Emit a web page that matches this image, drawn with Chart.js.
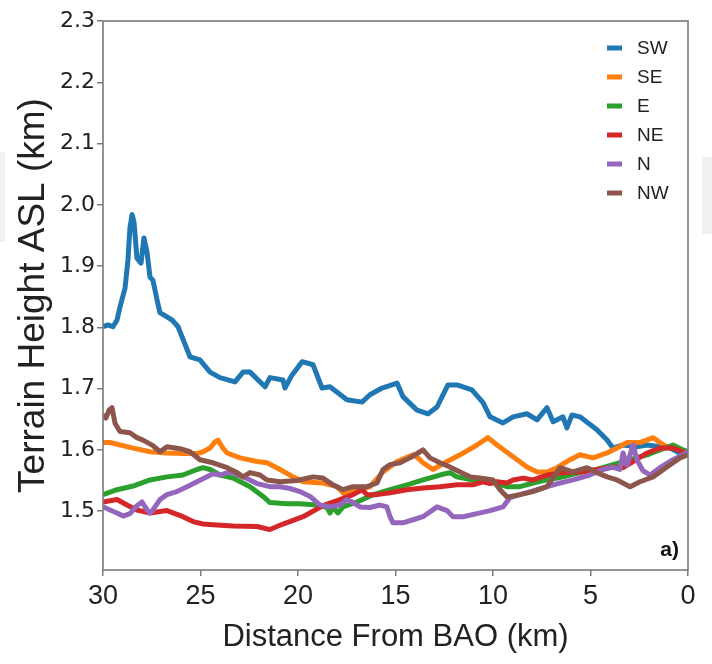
<!DOCTYPE html>
<html>
<head>
<meta charset="utf-8">
<script src="https://cdn.jsdelivr.net/npm/chart.js@4.4.0/dist/chart.umd.min.js"></script>
<style>
  body { margin: 0; background: #fff; }
  #wrap { position: relative; width: 712px; height: 664px; }
  #wrap canvas { position: absolute; left: 0; top: 0; }
  .smudge { position: absolute; background: #f1f1f1; }
</style>
</head>
<body>
<div id="wrap">
  <div class="smudge" style="left:702px;top:157px;width:10px;height:77px"></div>
  <div class="smudge" style="left:0;top:152px;width:5px;height:90px"></div>
  <canvas id="terrain" width="712" height="664"></canvas>
</div>
<script>
// distance from BAO (km) and terrain height ASL (km)
const swKm  = [30.00,29.74,29.49,29.28,29.13,28.87,28.72,28.62,28.51,28.41,28.26,28.05,27.90,27.74,27.59,27.44,27.23,27.08,26.72,26.46,26.15,25.95,25.54,25.03,24.51,24.00,23.23,22.82,22.46,21.69,21.44,20.77,20.67,20.31,19.79,19.23,18.77,18.36,17.49,16.72,16.31,15.69,14.92,14.62,13.90,13.33,12.87,12.31,11.85,11.08,10.51,10.15,9.49,8.97,8.26,7.74,7.23,6.92,6.41,6.21,5.95,5.54,4.67,4.15,3.85,3.33,2.62,2.10,1.44,0.92,0.26,0];
const swVal = [1.801,1.804,1.801,1.812,1.833,1.864,1.910,1.962,1.984,1.972,1.913,1.905,1.946,1.922,1.882,1.877,1.845,1.824,1.817,1.812,1.801,1.785,1.752,1.747,1.727,1.718,1.711,1.727,1.727,1.703,1.718,1.714,1.701,1.722,1.744,1.739,1.701,1.703,1.682,1.678,1.690,1.701,1.709,1.687,1.665,1.659,1.670,1.706,1.706,1.698,1.677,1.654,1.644,1.654,1.659,1.649,1.669,1.646,1.654,1.636,1.657,1.654,1.633,1.616,1.603,1.608,1.605,1.608,1.605,1.603,1.592,1.597];

const seKm  = [30.00,29.64,28.46,27.59,26.72,25.90,25.18,24.87,24.51,24.26,24.10,23.90,23.64,22.97,22.10,21.59,20.92,20.26,19.74,18.72,18.00,17.59,17.23,16.82,16.31,15.64,14.92,14.10,13.85,13.59,13.08,12.36,11.69,10.82,10.26,9.79,8.97,8.26,7.74,7.23,6.72,6.05,5.54,4.87,4.15,3.64,3.13,2.46,1.79,1.44,1.08,0.41,0];
const seVal = [1.612,1.612,1.603,1.597,1.595,1.594,1.594,1.597,1.603,1.613,1.616,1.605,1.595,1.587,1.581,1.579,1.568,1.556,1.548,1.546,1.540,1.527,1.532,1.535,1.540,1.564,1.581,1.592,1.587,1.579,1.568,1.581,1.592,1.608,1.620,1.608,1.589,1.572,1.564,1.564,1.571,1.584,1.592,1.587,1.595,1.603,1.612,1.612,1.620,1.612,1.605,1.600,1.597];

const eKm   = [30.00,29.28,28.46,27.59,26.72,25.90,25.18,24.87,24.51,24.00,23.33,22.46,21.79,21.44,20.56,19.90,19.03,18.51,18.36,18.21,17.95,17.69,16.97,16.15,15.28,14.41,13.59,12.72,12.21,11.85,11.03,10.15,9.28,8.62,7.95,7.23,6.41,5.54,4.67,3.85,2.97,2.10,1.44,0.77,0.26,0];
const eVal  = [1.527,1.535,1.541,1.551,1.556,1.559,1.568,1.571,1.568,1.559,1.554,1.540,1.524,1.514,1.512,1.512,1.510,1.506,1.497,1.506,1.497,1.507,1.515,1.527,1.535,1.543,1.551,1.559,1.563,1.556,1.551,1.548,1.540,1.540,1.546,1.551,1.556,1.563,1.568,1.576,1.584,1.592,1.600,1.608,1.600,1.597];

const neKm  = [30.00,29.28,28.77,28.26,27.59,26.72,25.90,25.38,24.87,24.36,23.33,22.10,21.44,20.77,19.74,18.72,17.85,17.18,16.72,16.46,15.95,15.28,14.41,13.59,12.72,11.85,11.03,10.51,10.15,9.79,9.28,8.97,8.46,7.95,7.23,6.41,5.54,4.67,3.85,3.33,2.82,2.10,1.44,0.77,0.26,0];
const neVal = [1.515,1.519,1.510,1.502,1.497,1.501,1.491,1.483,1.479,1.478,1.476,1.475,1.470,1.479,1.491,1.509,1.519,1.527,1.535,1.527,1.527,1.530,1.535,1.538,1.540,1.543,1.543,1.548,1.545,1.548,1.546,1.551,1.554,1.551,1.559,1.563,1.564,1.568,1.572,1.571,1.581,1.595,1.603,1.603,1.597,1.592];

const nKm   = [30.00,29.64,29.28,28.97,28.62,28.26,28.00,27.74,27.59,27.44,27.08,26.72,26.21,25.69,25.18,24.67,24.36,24.00,23.49,22.82,22.10,21.44,20.92,20.41,19.90,19.38,18.87,18.36,17.85,17.49,17.18,16.82,16.31,15.79,15.44,15.28,15.13,14.62,14.10,13.59,12.87,12.36,12.05,11.54,10.82,10.15,9.49,9.13,8.62,7.95,7.23,6.56,5.90,5.03,4.36,3.85,3.49,3.33,3.13,2.82,2.62,2.31,1.95,1.44,0.77,0.26,0];
const nVal  = [1.507,1.502,1.497,1.492,1.496,1.509,1.515,1.502,1.497,1.502,1.519,1.527,1.532,1.540,1.548,1.556,1.561,1.559,1.564,1.556,1.545,1.540,1.540,1.537,1.532,1.524,1.510,1.507,1.510,1.519,1.514,1.507,1.506,1.510,1.507,1.491,1.481,1.481,1.486,1.491,1.507,1.501,1.491,1.491,1.496,1.501,1.507,1.522,1.527,1.533,1.540,1.546,1.551,1.559,1.568,1.572,1.568,1.595,1.575,1.608,1.584,1.566,1.559,1.571,1.584,1.592,1.597];

const nwKm  = [30.00,29.85,29.69,29.54,29.38,29.13,28.62,28.26,27.95,27.44,27.08,26.72,26.05,25.54,25.03,24.36,23.64,23.13,22.82,22.46,21.95,21.59,20.92,20.05,19.23,18.72,18.21,17.69,17.18,16.46,15.95,15.64,15.28,14.77,14.26,13.74,13.59,13.23,12.72,12.21,11.69,11.18,10.67,10.00,9.64,9.28,8.62,7.95,7.23,6.56,5.90,5.18,4.67,4.15,3.64,2.97,2.46,1.79,1.08,0.41,0];
const nwVal = [1.657,1.652,1.665,1.669,1.643,1.630,1.628,1.620,1.616,1.607,1.597,1.605,1.602,1.597,1.584,1.579,1.571,1.563,1.556,1.563,1.559,1.551,1.548,1.550,1.556,1.554,1.543,1.535,1.540,1.540,1.546,1.568,1.576,1.579,1.587,1.597,1.600,1.587,1.579,1.572,1.564,1.556,1.554,1.551,1.535,1.523,1.527,1.532,1.540,1.571,1.564,1.571,1.563,1.556,1.551,1.540,1.548,1.556,1.572,1.587,1.592];

const seriesNames = ['SW', 'SE', 'E', 'NE', 'N', 'NW'];
const seriesKm = [swKm, seKm, eKm, neKm, nKm, nwKm];
const seriesVal = [swVal, seVal, eVal, neVal, nVal, nwVal];
const seriesColors = ['#1f77b4', '#ff7f0e', '#2ca02c', '#d62728', '#9467bd', '#8c564b'];

const xTickValues = [30, 25, 20, 15, 10, 5, 0];
const yTickValues = [1.5, 1.6, 1.7, 1.8, 1.9, 2.0, 2.1, 2.2, 2.3];

const SANS = '"Liberation Sans", Arial, sans-serif';

// box around the plot area, like matplotlib spines
const frameBox = {
  id: 'frameBox',
  afterDatasetsDraw(chart) {
    const a = chart.chartArea, ctx = chart.ctx;
    ctx.save();
    ctx.strokeStyle = '#7a7a7a';
    ctx.lineWidth = 1.6;
    ctx.strokeRect(a.left, a.top, a.right - a.left, a.bottom - a.top);
    ctx.restore();
  }
};

// legend drawn inside the axes, top right
const innerLegend = {
  id: 'innerLegend',
  afterDraw(chart) {
    const ctx = chart.ctx;
    ctx.save();
    ctx.font = '19px ' + SANS;
    ctx.textBaseline = 'middle';
    ctx.fillStyle = '#222';
    chart.data.datasets.forEach((ds, i) => {
      const y = 48 + i * 29;
      ctx.strokeStyle = ds.borderColor;
      ctx.lineWidth = 5;
      ctx.beginPath();
      ctx.moveTo(607, y);
      ctx.lineTo(622, y);
      ctx.stroke();
      ctx.fillText(ds.label, 637, y + 1);
    });
    ctx.restore();
  }
};

const panelLabel = {
  id: 'panelLabel',
  afterDraw(chart) {
    const ctx = chart.ctx;
    ctx.save();
    ctx.font = 'bold 21px ' + SANS;
    ctx.fillStyle = '#111';
    ctx.textAlign = 'right';
    ctx.textBaseline = 'middle';
    ctx.fillText('a)', chart.chartArea.right - 9, chart.chartArea.bottom - 20);
    ctx.restore();
  }
};

new Chart(document.getElementById('terrain'), {
  type: 'line',
  data: {
    datasets: seriesNames.map((name, i) => ({
      label: name,
      data: seriesKm[i].map((km, j) => ({ x: km, y: seriesVal[i][j] })),
      borderColor: seriesColors[i],
      backgroundColor: seriesColors[i],
      borderWidth: 5,
      borderJoinStyle: 'round',
      pointRadius: 0,
      tension: 0,
      fill: false,
      order: seriesNames.length - i
    }))
  },
  options: {
    responsive: false,
    animation: false,
    layout: { padding: { top: 21, right: 24, left: 0, bottom: 0 } },
    plugins: { legend: { display: false }, tooltip: { enabled: false } },
    scales: {
      x: {
        type: 'linear',
        reverse: true,
        min: 0,
        max: 30,
        afterBuildTicks: s => { s.ticks = xTickValues.map(v => ({ value: v })); },
        afterFit: s => { s.height = 94; },
        border: { display: false },
        grid: { drawOnChartArea: false, drawTicks: true, tickLength: 6, color: '#7a7a7a', lineWidth: 1.5 },
        ticks: { font: { family: SANS, size: 27 }, color: '#222', padding: 4, maxRotation: 0 },
        title: { display: true, text: 'Distance From BAO (km)', font: { family: SANS, size: 31 }, color: '#222', padding: { top: 0, bottom: 8 } }
      },
      y: {
        min: 1.404,
        max: 2.3,
        afterBuildTicks: s => { s.ticks = yTickValues.map(v => ({ value: v })); },
        afterFit: s => { s.width = 103; },
        border: { display: false },
        grid: { drawOnChartArea: false, drawTicks: true, tickLength: 6, color: '#7a7a7a', lineWidth: 1.5 },
        ticks: { font: { family: '"DejaVu Sans", sans-serif', size: 22 }, color: '#222', padding: 2,
                 callback: v => v.toFixed(1) },
        title: { display: true, text: 'Terrain Height ASL (km)', font: { family: SANS, size: 37 }, color: '#222', padding: { top: 12, bottom: 0 } }
      }
    }
  },
  plugins: [frameBox, innerLegend, panelLabel]
});
</script>
</body>
</html>
